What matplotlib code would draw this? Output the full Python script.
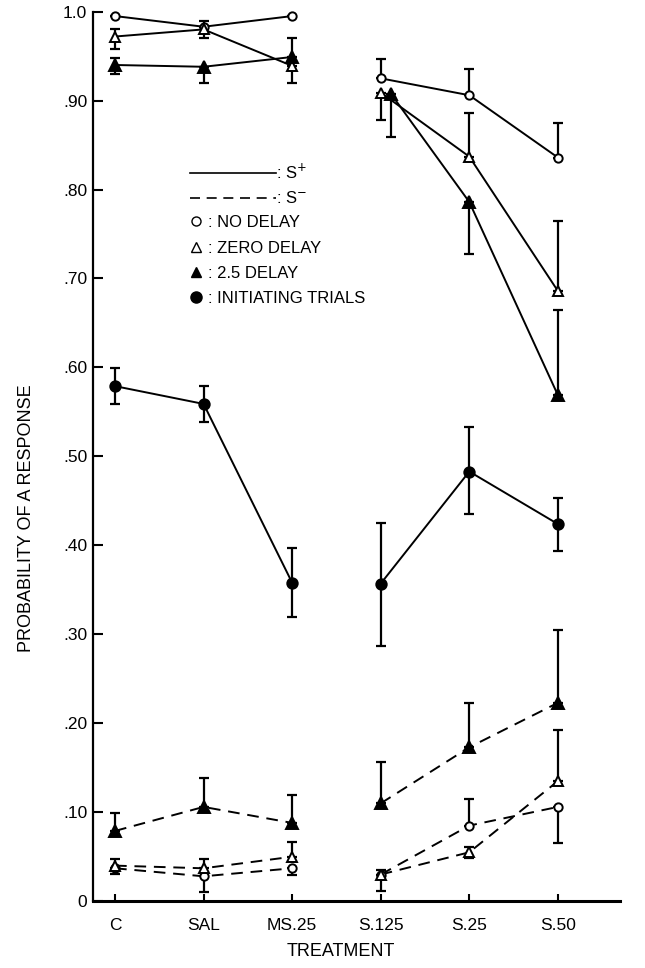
import matplotlib
matplotlib.use('Agg')
from matplotlib import pyplot as plt
from matplotlib.lines import Line2D
import numpy as np

plt.rcParams['font.family'] = ['Liberation Sans', 'DejaVu Sans']

treatments = ['C', 'SAL', 'MS.25', 'S.125', 'S.25', 'S.50']
ytick_vals = [0, .1, .2, .3, .4, .5, .6, .7, .8, .9, 1.0]
ytick_labels = ['0', '.10', '.20', '.30', '.40', '.50', '.60', '.70', '.80', '.90', '1.0']

# S+ (solid lines)
splus_none = [0.995, 0.983, 0.995, 0.925, 0.906, 0.836]
splus_none_lo = [0, 0, 0, 0, 0, 0]
splus_none_hi = [0, 0, 0, 0.022, 0.030, 0.039]

splus_zero = [0.972, 0.980, 0.939, 0.909, 0.837, 0.686]
splus_zero_lo = [0.014, 0.010, 0.019, 0.031, 0, 0]
splus_zero_hi = [0.008, 0.010, 0, 0, 0.049, 0.079]

splus_25 = [0.940, 0.938, 0.949, 0.907, 0.786, 0.569]
splus_25_lo = [0.010, 0.018, 0, 0.048, 0.058, 0]
splus_25_hi = [0.008, 0, 0.021, 0, 0, 0.096]

init_trials = [0.579, 0.559, 0.358, 0.357, 0.483, 0.424]
init_lo = [0.020, 0.020, 0.038, 0.070, 0.048, 0.030]
init_hi = [0.020, 0.020, 0.039, 0.068, 0.050, 0.029]

# S- (dashed lines)
sminus_none = [0.037, 0.028, 0.037, 0.030, 0.085, 0.106]
sminus_none_lo = [0.006, 0.018, 0.007, 0.018, 0, 0.041]
sminus_none_hi = [0, 0, 0, 0, 0.030, 0]

sminus_zero = [0.040, 0.037, 0.050, 0.030, 0.055, 0.135]
sminus_zero_lo = [0.006, 0, 0, 0, 0.006, 0]
sminus_zero_hi = [0.008, 0.011, 0.017, 0.005, 0.006, 0.058]

sminus_25 = [0.079, 0.106, 0.088, 0.110, 0.173, 0.223]
sminus_25_lo = [0, 0, 0, 0, 0, 0]
sminus_25_hi = [0.020, 0.033, 0.031, 0.046, 0.050, 0.082]

x = np.arange(len(treatments), dtype=float)
x_shift = np.array([0, 0, 0, 0.12, 0, 0])  # filled triangle nudged at S.125

fig = plt.figure(figsize=(6.45, 9.68), dpi=100)
ax = fig.add_axes([0.144, 0.069, 0.817, 0.919])


def draw(xs, y, lo, hi, marker, fill, ls):
    xs = np.asarray(xs)
    y = np.asarray(y)
    for seg in (slice(0, 3), slice(3, 6)):
        ax.plot(xs[seg], y[seg], color='black', lw=1.4, ls=ls,
                dashes=(6, 4) if ls == '--' else (None, None), clip_on=False, zorder=2)
    ax.errorbar(xs, y, yerr=[lo, hi], fmt='none', ecolor='black', elinewidth=1.6,
                capsize=3.5, capthick=1.6, clip_on=False, zorder=3)
    if marker == '^':
        size = 8 if fill else 7
    else:
        size = 7.5 if fill else 6
    ax.plot(xs, y, ls='none', marker=marker, ms=size,
            mfc='black' if fill else 'white', mec='black', mew=1.4, clip_on=False, zorder=4)


draw(x, splus_none, splus_none_lo, splus_none_hi, 'o', False, '-')
draw(x, splus_zero, splus_zero_lo, splus_zero_hi, '^', False, '-')
draw(x + x_shift, splus_25, splus_25_lo, splus_25_hi, '^', True, '-')
draw(x, init_trials, init_lo, init_hi, 'o', True, '-')
draw(x, sminus_none, sminus_none_lo, sminus_none_hi, 'o', False, '--')
draw(x, sminus_zero, sminus_zero_lo, sminus_zero_hi, '^', False, '--')
draw(x, sminus_25, sminus_25_lo, sminus_25_hi, '^', True, '--')

ax.set_xlim(-0.25, 5.7)
ax.set_ylim(0, 1.0)
ax.set_xticks(x)
ax.set_xticklabels(treatments, fontsize=12.5)
ax.set_yticks(ytick_vals)
ax.set_yticklabels(ytick_labels, fontsize=12.5)
ax.tick_params(axis='both', direction='in', length=7, width=1.5, color='black')
ax.tick_params(axis='x', pad=12, length=5)
ax.tick_params(axis='y', pad=4)
for s in ['top', 'right']:
    ax.spines[s].set_visible(False)
ax.spines['left'].set_linewidth(1.6)
ax.spines['bottom'].set_linewidth(2.2)

ax.set_xlabel('TREATMENT', fontsize=13)
ax.xaxis.set_label_coords(0.47, -0.047)
ax.set_ylabel('PROBABILITY OF A RESPONSE', fontsize=13)
ax.yaxis.set_label_coords(-0.11, 0.43)

line_handles = [Line2D([], [], color='black', lw=1.2, ls='-'),
                Line2D([], [], color='black', lw=1.2, ls='--', dashes=(6, 4))]
leg1 = ax.legend(line_handles, [': S$^{+}$', ': S$^{-}$'], loc='upper left',
                 bbox_to_anchor=(0.155, 0.847), frameon=False, handlelength=5.2,
                 handletextpad=0.0, labelspacing=0.5, fontsize=12)
ax.add_artist(leg1)
marker_handles = [Line2D([], [], ls='none', marker='o', ms=6.5, mfc='white', mec='black'),
                  Line2D([], [], ls='none', marker='^', ms=7, mfc='white', mec='black'),
                  Line2D([], [], ls='none', marker='^', ms=7.5, mfc='black', mec='black'),
                  Line2D([], [], ls='none', marker='o', ms=8, mfc='black', mec='black')]
ax.legend(marker_handles, [': NO DELAY', ': ZERO DELAY', ': 2.5 DELAY', ': INITIATING TRIALS'],
          loc='upper left', bbox_to_anchor=(0.155, 0.788), frameon=False, handlelength=0.8,
          handletextpad=0.3, labelspacing=0.62, fontsize=12)

fig.savefig('out.png', dpi=100)
